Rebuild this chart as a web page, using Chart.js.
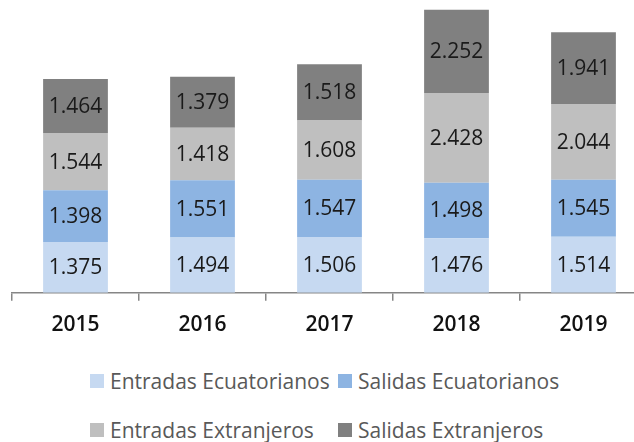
<!DOCTYPE html>
<html>
<head>
<meta charset="utf-8">
<script src="https://cdn.jsdelivr.net/npm/chart.js@4.4.0/dist/chart.umd.min.js"></script>
<style>
  html, body { margin: 0; padding: 0; background: #fff; overflow: hidden; }
  .wrap { position: relative; width: 660px; height: 442px; }
  .chart-box { position: absolute; left: 0; top: 0; width: 660px; height: 350px; }
  .legend { position: absolute; left: 90px; top: 366px; font-family: "Open Sans", sans-serif; font-size: 21px; color: #595959; }
  .legend-item { position: absolute; white-space: nowrap; display: flex; align-items: center; height: 30px; }
  .legend-item span.box { display: inline-block; width: 14px; height: 14px; margin-right: 6px; }
</style>
</head>
<body>
<div class="wrap">
  <div class="chart-box"><canvas id="migration-chart"></canvas></div>
  <div class="legend" id="legend"></div>
</div>
<script>
// Data
const years = ["2015", "2016", "2017", "2018", "2019"];
const entradasEcuatorianos = [1375, 1494, 1506, 1476, 1514];
const salidasEcuatorianos = [1398, 1551, 1547, 1498, 1545];
const entradasExtranjeros = [1544, 1418, 1608, 2428, 2044];
const salidasExtranjeros = [1464, 1379, 1518, 2252, 1941];
const seriesNames = ["Entradas Ecuatorianos", "Salidas Ecuatorianos", "Entradas Extranjeros", "Salidas Extranjeros"];
const seriesColors = ["#C6D9F1", "#8DB4E2", "#BFBFBF", "#808080"];

const formatValue = (v) => {
  const s = String(v);
  return s.length > 3 ? s.slice(0, s.length - 3) + "." + s.slice(-3) : s;
};

// Value labels inside bars
const barLabels = {
  id: "barLabels",
  afterDatasetsDraw(chart) {
    const ctx = chart.ctx;
    ctx.save();
    ctx.font = "21px 'Open Sans', sans-serif";
    ctx.fillStyle = "#1a1a1a";
    ctx.textAlign = "center";
    ctx.textBaseline = "middle";
    chart.data.datasets.forEach((ds, i) => {
      const meta = chart.getDatasetMeta(i);
      meta.data.forEach((bar, j) => {
        const y = (bar.y + bar.base) / 2;
        ctx.fillText(formatValue(ds.data[j]), bar.x, y + 1);
      });
    });
    ctx.restore();
  },
};

// Chart
const migrationChart = document.querySelector("#migration-chart");
if (migrationChart) {
  const allSeries = [entradasEcuatorianos, salidasEcuatorianos, entradasExtranjeros, salidasExtranjeros];
  new Chart(migrationChart, {
    type: "bar",
    data: {
      labels: years,
      datasets: allSeries.map((data, i) => ({
        label: seriesNames[i],
        data: data,
        backgroundColor: seriesColors[i],
        categoryPercentage: 1,
        barPercentage: 0.51,
      })),
    },
    options: {
      maintainAspectRatio: false,
      responsive: true,
      animation: false,
      layout: { padding: { left: 12, right: 13, top: 0, bottom: 0 } },
      plugins: {
        legend: { display: false },
        tooltip: { enabled: false },
      },
      scales: {
        x: {
          stacked: true,
          offset: true,
          border: { display: true, color: "#868686", width: 1.5 },
          grid: {
            offset: true,
            drawOnChartArea: false,
            drawTicks: true,
            tickLength: 8,
            color: "#868686",
            lineWidth: 1.5,
          },
          ticks: {
            color: "#111",
            padding: 12,
            font: { family: "'Open Sans', sans-serif", size: 21, weight: 600 },
          },
        },
        y: {
          stacked: true,
          display: false,
          min: 0,
          max: 7915,
        },
      },
    },
    plugins: [barLabels],
  });

  // HTML legend
  const legend = document.querySelector("#legend");
  const positions = [[0, 0], [248, 0], [0, 49], [248, 49]];
  seriesNames.forEach((name, i) => {
    const item = document.createElement("div");
    item.className = "legend-item";
    item.style.left = positions[i][0] + "px";
    item.style.top = positions[i][1] + "px";
    item.innerHTML = `<span class="box" style="background:${seriesColors[i]}"></span>${name}`;
    legend.appendChild(item);
  });
}
</script>
</body>
</html>
